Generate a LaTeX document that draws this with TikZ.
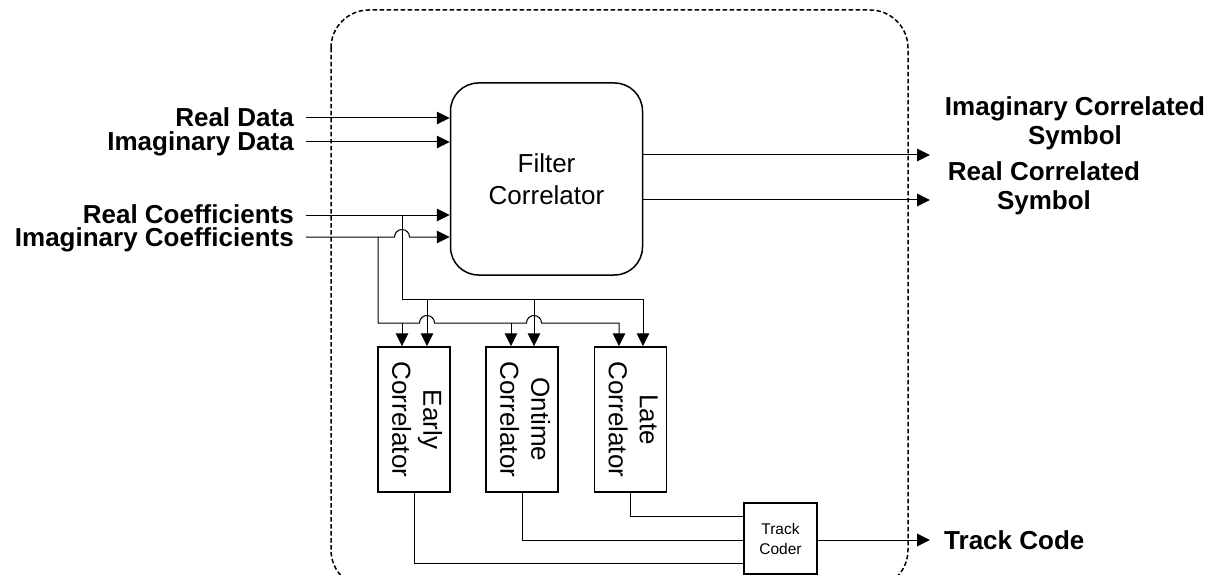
\documentclass[tikz,border=0pt]{standalone}
\usepackage{fontspec}
\setmainfont{Liberation Sans}
\usetikzlibrary{arrows.meta}

\begin{document}
\begin{tikzpicture}[x=1pt,y=-1pt,
  wire/.style={line width=1pt},
  arr/.style={wire,-{Triangle[length=13pt,width=12.5pt]}},
  iolbl/.style={font=\fontsize{26}{29}\selectfont\bfseries, inner sep=0pt},
  blk/.style={draw, line width=1.5pt, inner sep=0pt},
  corr/.style={blk, minimum width=72pt, minimum height=145pt,
               font=\fontsize{26}{31}\selectfont},
  frame/.style={line width=1.5pt, dash pattern=on 4.5pt off 2.5pt, rounded corners=38pt}
]
\useasboundingbox (0,0) rectangle (1219,575);

% dashed enclosure (runs below the lower edge)
\begin{scope}
  \clip (0,0) rectangle (1219,575);
  \draw[frame] (331,10) rectangle (908,588);
\end{scope}

% main blocks
\node[blk, rounded corners=28pt, minimum width=192pt, minimum height=192pt,
      align=center, font=\fontsize{26}{32}\selectfont] (fc) at (546.5,179) {Filter\\Correlator};

\node[corr] (early)  at (414,419.5)   {\rotatebox{-90}{\begin{tabular}{@{}c@{}}Early\\Correlator\end{tabular}}};
\node[corr] (ontime) at (522,419.5)   {\rotatebox{-90}{\begin{tabular}{@{}c@{}}Ontime\\Correlator\end{tabular}}};
\node[corr] (late)   at (630.5,419.5) {\rotatebox{-90}{\begin{tabular}{@{}c@{}}Late\\Correlator\end{tabular}}};

\node[blk, line width=1.2pt, minimum width=73pt, minimum height=71pt, align=center,
      font=\fontsize{15.5}{20}\selectfont] (tc) at (780.5,538.5) {Track\\Coder};

% input labels
\node[iolbl, anchor=base east] (lRD) at (294,127) {Real Data};
\node[iolbl, anchor=base east] (lID) at (294,151) {Imaginary Data};
\node[iolbl, anchor=base east] (lRC) at (294,223) {Real Coefficients};
\node[iolbl, anchor=base east] (lIC) at (294,246) {Imaginary Coefficients};

% output labels
\node[iolbl, anchor=base, align=center] (lIS) at (1075,145) {Imaginary Correlated\\Symbol};
\node[iolbl, anchor=base, align=center] (lRS) at (1044,210) {Real Correlated\\Symbol};
\node[iolbl, anchor=base west] (lTC) at (944,549) {Track Code};

% wire end points
\coordinate (inRD) at (306,118);
\coordinate (inID) at (306,142);
\coordinate (inRC) at (306,215);
\coordinate (inIC) at (306,237);
\coordinate (outI) at (930,155);
\coordinate (outR) at (930,200);
\coordinate (outT) at (930,540);

% coefficient buses
\coordinate (rT) at (402,215);
\coordinate (rB) at (402,299);
\coordinate (rE) at (643,299);
\coordinate (rEa) at (427,299);
\coordinate (rOn) at (534,299);
\coordinate (iT) at (378,237);
\coordinate (iB) at (378,323);
\coordinate (iE) at (619,323);
\coordinate (iEa) at (402,323);
\coordinate (iOn) at (511,323);

% bus heights into the track coder
\coordinate (yL) at (0,516);
\coordinate (yO) at (0,540);
\coordinate (yE) at (0,563);

% inputs to the filter correlator
\draw[arr] (inRD) -- (inRD -| fc.west);
\draw[arr] (inID) -- (inID -| fc.west);
\draw[arr] (inRC) -- (inRC -| fc.west);
\draw[arr] (inIC) -- (394.5,237) arc[start angle=180, end angle=0, radius=7.5pt] -- (inIC -| fc.west);

% outputs of the filter correlator
\draw[arr] (fc.east |- outI) -- (outI);
\draw[arr] (fc.east |- outR) -- (outR);

% real coefficient bus
\draw[arr] (rT) -- (rB) -- (rE) -- (rE |- late.north);
\draw[arr] (rEa) -- (rEa |- early.north);
\draw[arr] (rOn) -- (rOn |- ontime.north);

% imaginary coefficient bus with hops
\draw[arr] (iT) -- (iB) -- (419.5,323) arc[start angle=180, end angle=0, radius=7.5pt]
  -- (526.5,323) arc[start angle=180, end angle=0, radius=7.5pt]
  -- (iE) -- (iE |- late.north);
\draw[arr] (iEa) -- (iEa |- early.north);
\draw[arr] (iOn) -- (iOn |- ontime.north);

% correlators into the track coder
\draw[wire] (late.south) |- (tc.west |- yL);
\draw[wire] (ontime.south) |- (tc.west |- yO);
\draw[wire] (early.south) |- (tc.west |- yE);
\draw[arr] (tc.east |- outT) -- (outT);
\end{tikzpicture}
\end{document}
